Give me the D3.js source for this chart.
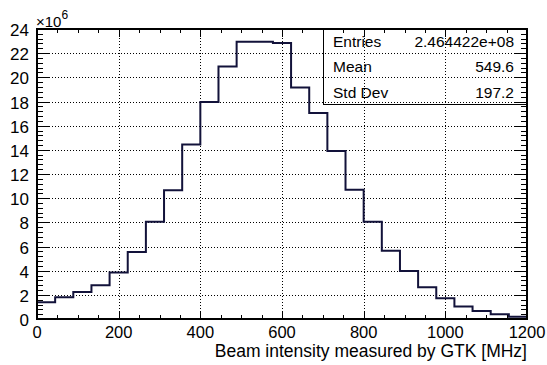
<!DOCTYPE html>
<html>
<head>
<meta charset="utf-8">
<script src="https://cdn.jsdelivr.net/npm/d3@7"></script>
<style>
  body { margin: 0; background: #fff; }
  svg { display: block; }
  text { font-family: "Liberation Sans", Arial, sans-serif; fill: #000; }
</style>
</head>
<body>
<svg id="chart" width="547" height="365"></svg>
<script>
// Histogram: 27 bins from 0 to 1200 MHz, counts in units of 1e6
const binEdgesRange = [0, 1200];
const binCount = 27;
const counts = [1.38, 1.8, 2.24, 2.8, 3.85, 5.55, 8.05, 10.65, 14.45, 17.95, 20.9, 22.95, 22.95, 22.85,
                19.15, 17.05, 13.9, 10.7, 8.05, 5.65, 3.97, 2.62, 1.72, 1.03, 0.66, 0.39, 0.19];
const xTicks = [0, 200, 400, 600, 800, 1000, 1200];
const yTicks = [0, 2, 4, 6, 8, 10, 12, 14, 16, 18, 20, 22, 24];
const statsLabels = ["Entries", "Mean", "Std Dev"];
const statsValues = ["2.464422e+08", "549.6", "197.2"];
const xTitle = "Beam intensity measured by GTK [MHz]";

const svg = d3.select("#chart");
const L = 37, R = 527, T = 29, B = 319;
const x = d3.scaleLinear().domain(binEdgesRange).range([L, R]);
const y = d3.scaleLinear().domain([0, 24]).range([B, T]);

// grid
const grid = svg.append("g").attr("stroke", "#000").attr("stroke-width", 1).attr("stroke-dasharray", "1,2");
xTicks.slice(1, -1).forEach(v => {
  grid.append("line").attr("x1", Math.round(x(v)) + 0.5).attr("x2", Math.round(x(v)) + 0.5).attr("y1", T).attr("y2", B);
});
yTicks.slice(1, -1).forEach(v => {
  grid.append("line").attr("y1", Math.round(y(v)) + 0.5).attr("y2", Math.round(y(v)) + 0.5).attr("x1", L).attr("x2", R);
});

// histogram step line
const bw = (binEdgesRange[1] - binEdgesRange[0]) / binCount;
const pts = [];
pts.push([x(0), y(0)]);
counts.forEach((c, i) => {
  pts.push([x(i * bw), y(c)]);
  pts.push([x((i + 1) * bw), y(c)]);
});
svg.append("path")
  .attr("d", d3.line()(pts))
  .attr("fill", "none")
  .attr("stroke", "#12123a")
  .attr("stroke-width", 2);

// ticks
const ticks = svg.append("g").attr("stroke", "#000").attr("stroke-width", 1);
d3.range(0, 1201, 50).forEach(v => {
  const major = v % 200 === 0;
  const len = major ? 8 : 4;
  const px = Math.round(x(v)) + 0.5;
  ticks.append("line").attr("x1", px).attr("x2", px).attr("y1", B).attr("y2", B - len);
  ticks.append("line").attr("x1", px).attr("x2", px).attr("y1", T).attr("y2", T + len);
});
d3.range(0, 60.5, 1).forEach(k => {
  const v = k * 0.4;
  const major = k % 5 === 0;
  const len = major ? 13 : 6;
  const py = Math.round(y(v)) + 0.5;
  ticks.append("line").attr("y1", py).attr("y2", py).attr("x1", L).attr("x2", L + len);
  ticks.append("line").attr("y1", py).attr("y2", py).attr("x1", R).attr("x2", R - len);
});

// frame
svg.append("rect").attr("x", L).attr("y", T).attr("width", R - L).attr("height", B - T)
  .attr("fill", "none").attr("stroke", "#000").attr("stroke-width", 2);

// tick labels
svg.append("g").selectAll("text").data(xTicks).join("text")
  .attr("x", d => x(d)).attr("y", 337.5).attr("text-anchor", "middle")
  .attr("font-size", 16.5).text(d => d);
svg.append("g").selectAll("text").data(yTicks).join("text")
  .attr("x", 29).attr("y", d => y(d) + 7).attr("text-anchor", "end")
  .attr("font-size", 17).text(d => d);

// exponent
const ex = svg.append("text").attr("x", 36).attr("y", 27).attr("font-size", 15);
ex.append("tspan").text("\u00d710");
ex.append("tspan").attr("dy", -8).attr("font-size", 12).text("6");

// axis title
svg.append("text").attr("x", R).attr("y", 357).attr("text-anchor", "end")
  .attr("font-size", 17.5).text(xTitle);

// stats box (transparent)
const bx0 = 323.5, by0 = 29, by1 = 104.5;
svg.append("rect").attr("x", bx0).attr("y", by0).attr("width", R - bx0).attr("height", by1 - by0)
  .attr("fill", "none").attr("stroke", "#000").attr("stroke-width", 1);
const rowsY = [46.5, 72, 97.5];
statsLabels.forEach((lab, i) => {
  svg.append("text").attr("x", 333).attr("y", rowsY[i]).attr("font-size", 15.5).text(lab);
  svg.append("text").attr("x", 514).attr("y", rowsY[i]).attr("text-anchor", "end").attr("font-size", 15.5).text(statsValues[i]);
});
</script>
</body>
</html>
